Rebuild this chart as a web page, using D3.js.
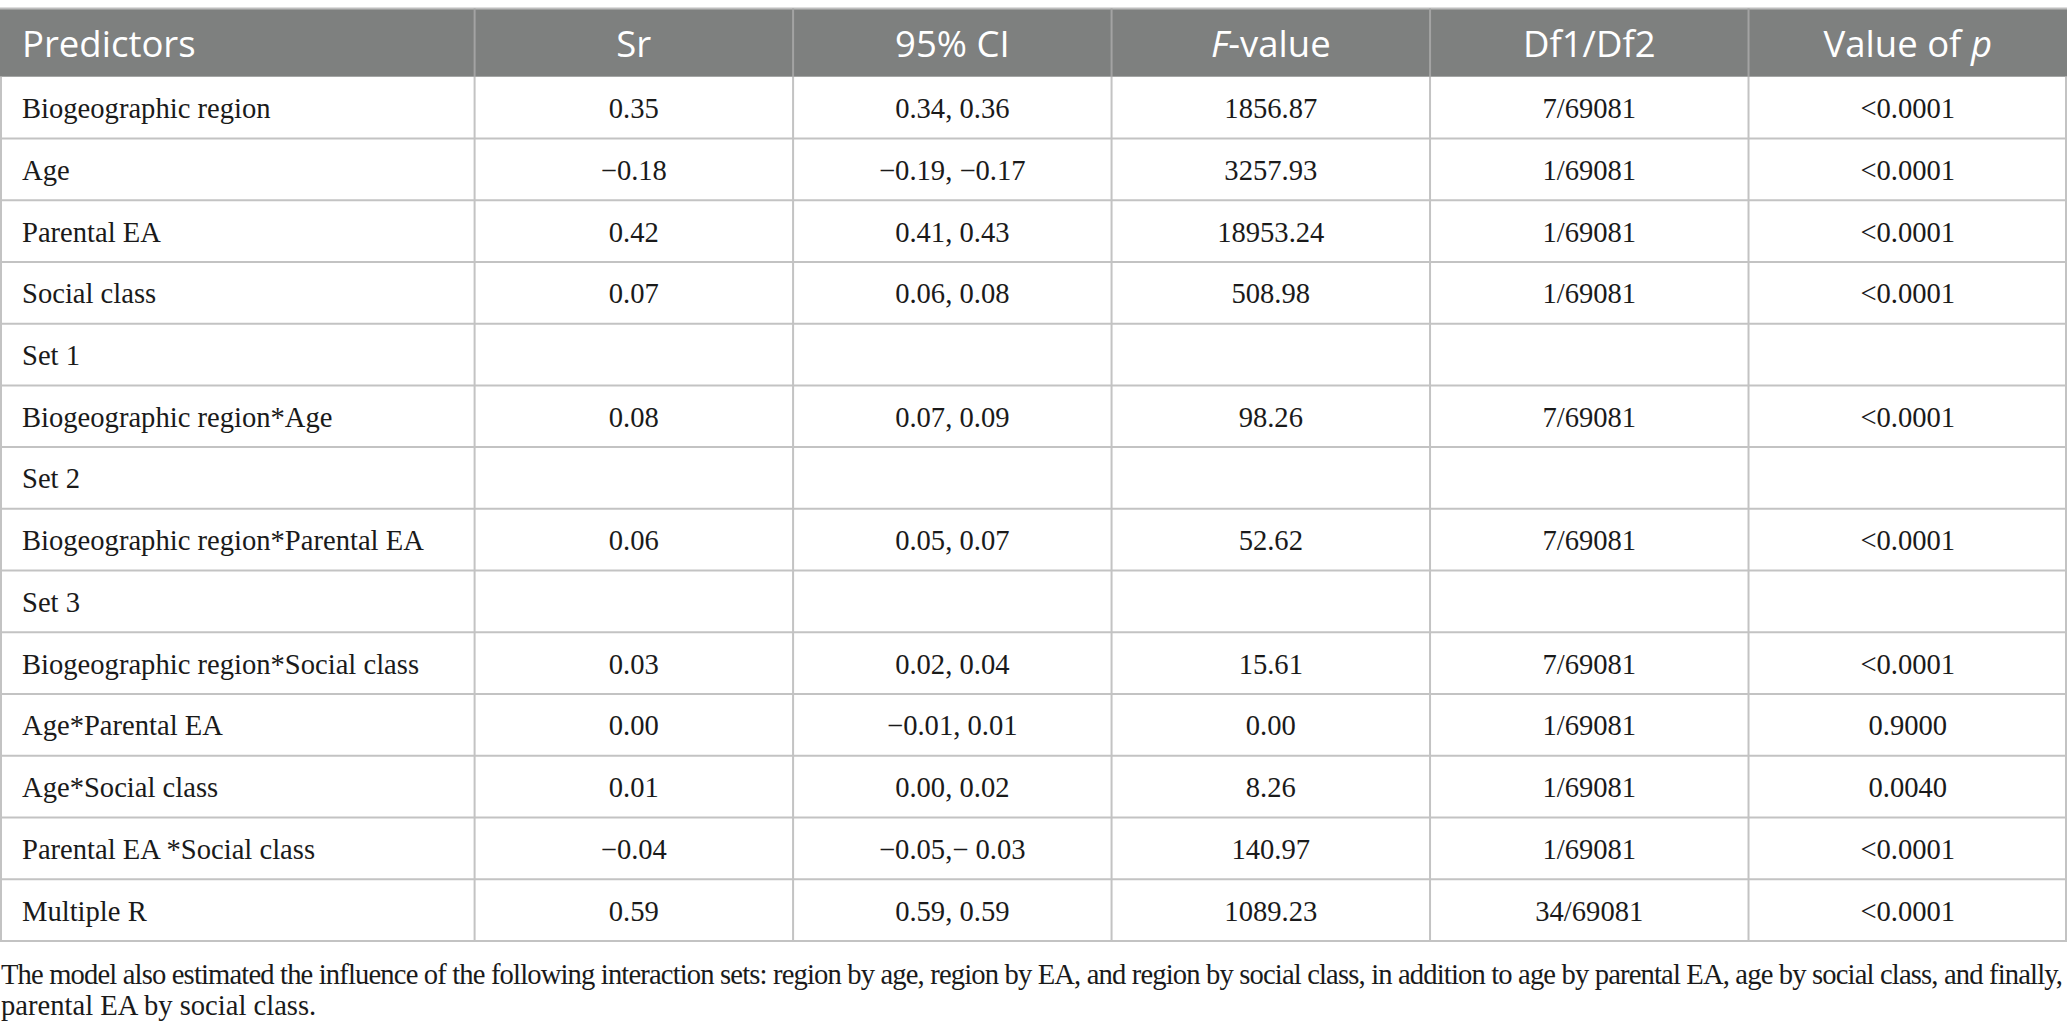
<!DOCTYPE html>
<html>
<head>
<meta charset="utf-8">
<script src="https://cdn.jsdelivr.net/npm/d3@7"></script>
<style>
html,body{margin:0;padding:0;background:#fff;}
svg{display:block;}
</style>
</head>
<body>
<svg id="chart" width="2067" height="1035"></svg>
<script>
const columns = ["Predictors", "Sr", "95% CI", "F-value", "Df1/Df2", "Value of p"];
const predictors = ["Biogeographic region", "Age", "Parental EA", "Social class", "Set 1",
  "Biogeographic region*Age", "Set 2", "Biogeographic region*Parental EA", "Set 3",
  "Biogeographic region*Social class", "Age*Parental EA", "Age*Social class",
  "Parental EA *Social class", "Multiple R"];
const srValues = ["0.35", "\u22120.18", "0.42", "0.07", "", "0.08", "", "0.06", "", "0.03", "0.00", "0.01", "\u22120.04", "0.59"];
const ciValues = ["0.34, 0.36", "\u22120.19, \u22120.17", "0.41, 0.43", "0.06, 0.08", "", "0.07, 0.09", "", "0.05, 0.07", "",
  "0.02, 0.04", "\u22120.01, 0.01", "0.00, 0.02", "\u22120.05,\u2212 0.03", "0.59, 0.59"];
const fValues = ["1856.87", "3257.93", "18953.24", "508.98", "", "98.26", "", "52.62", "", "15.61", "0.00", "8.26", "140.97", "1089.23"];
const dfValues = ["7/69081", "1/69081", "1/69081", "1/69081", "", "7/69081", "", "7/69081", "", "7/69081", "1/69081", "1/69081", "1/69081", "34/69081"];
const pValues = ["<0.0001", "<0.0001", "<0.0001", "<0.0001", "", "<0.0001", "", "<0.0001", "", "<0.0001", "0.9000", "0.0040", "<0.0001", "<0.0001"];
const footnoteLines = [
  "The model also estimated the influence of the following interaction sets: region by age, region by EA, and region by social class, in addition to age by parental EA, age by social class, and finally,",
  "parental EA by social class."
];

const W = 2067;
const svg = d3.select("#chart");
const tableTop = 8.5, headerBottom = 76.7, tableBottom = 941;
const firstColRight = 474.6;

const rowIdx = d3.range(predictors.length);
const y = d3.scaleBand().domain(rowIdx).range([headerBottom, tableBottom]).padding(0);
const xNum = d3.scaleBand().domain(columns.slice(1)).range([firstColRight, W]).padding(0);
const colLeft = c => c === columns[0] ? 0 : xNum(c);
const colCenter = c => xNum(c) + xNum.bandwidth() / 2;

const gridColor = "#c3c3c3";
const headerFill = "#7e807f";

// header background
svg.append("rect").attr("x", 0).attr("y", tableTop).attr("width", W)
  .attr("height", headerBottom - tableTop).attr("fill", headerFill);
svg.append("line").attr("x1", 0).attr("x2", W).attr("y1", tableTop).attr("y2", tableTop)
  .attr("stroke", "#bdbdbd").attr("stroke-width", 2);

// header dividers
svg.selectAll("line.hdiv").data(columns.slice(1)).join("line").attr("class", "hdiv")
  .attr("x1", d => colLeft(d)).attr("x2", d => colLeft(d))
  .attr("y1", tableTop).attr("y2", headerBottom)
  .attr("stroke", "#a3a3a3").attr("stroke-width", 2);

// header text
const headerY = (tableTop + headerBottom) / 2 + 14;
const hdr = svg.selectAll("text.hdr").data(columns).join("text").attr("class", "hdr")
  .attr("x", (d, i) => i === 0 ? 22 : colCenter(d))
  .attr("y", headerY)
  .attr("text-anchor", (d, i) => i === 0 ? "start" : "middle")
  .attr("fill", "#ffffff")
  .style("font-family", "'Open Sans', 'Noto Sans', sans-serif")
  .style("font-size", "36.5px");
hdr.each(function(d) {
  const t = d3.select(this);
  if (d === "F-value") {
    t.append("tspan").style("font-style", "italic").text("F");
    t.append("tspan").text("-value");
  } else if (d === "Value of p") {
    t.append("tspan").text("Value of ");
    t.append("tspan").style("font-style", "italic").text("p");
  } else {
    t.text(d);
  }
});

// body grid: horizontal lines
svg.selectAll("line.hrow").data(rowIdx).join("line").attr("class", "hrow")
  .attr("x1", 0).attr("x2", W)
  .attr("y1", d => y(d) + y.bandwidth()).attr("y2", d => y(d) + y.bandwidth())
  .attr("stroke", gridColor).attr("stroke-width", 2);
// vertical lines
const vEdges = [0].concat(columns.slice(1).map(c => colLeft(c))).concat([W]);
svg.selectAll("line.vcol").data(vEdges).join("line").attr("class", "vcol")
  .attr("x1", d => Math.min(Math.max(d, 1), W - 1)).attr("x2", d => Math.min(Math.max(d, 1), W - 1))
  .attr("y1", headerBottom).attr("y2", tableBottom)
  .attr("stroke", gridColor).attr("stroke-width", 2);

// body text
const bodyFont = "'Liberation Serif', 'Times New Roman', serif";
const colData = [predictors, srValues, ciValues, fValues, dfValues, pValues];
const cells = [];
rowIdx.forEach(r => {
  colData.forEach((arr, ci) => {
    if (arr[r] !== "") cells.push({ r, c: columns[ci], ci, text: arr[r] });
  });
});
svg.selectAll("text.cell").data(cells).join("text").attr("class", "cell")
  .attr("x", d => d.ci === 0 ? 22 : colCenter(d.c))
  .attr("y", d => y(d.r) + y.bandwidth() / 2 + 10.5)
  .attr("text-anchor", d => d.ci === 0 ? "start" : "middle")
  .attr("fill", "#1a1a1a")
  .style("font-family", bodyFont)
  .style("font-size", "28.6px")
  .text(d => d.text);

// footnote
const fn = svg.selectAll("text.fn").data(footnoteLines).join("text").attr("class", "fn")
  .attr("x", 1)
  .attr("y", (d, i) => 984 + i * 31)
  .attr("fill", "#1a1a1a")
  .style("font-family", bodyFont)
  .style("font-size", "28.6px")
  .text(d => d);
fn.filter((d, i) => i === 0).each(function() {
  const len = this.getComputedTextLength();
  const target = 2062;
  if (Math.abs(len - target) < 200) {
    d3.select(this).attr("textLength", target).attr("lengthAdjust", "spacing");
  }
});
</script>
</body>
</html>
